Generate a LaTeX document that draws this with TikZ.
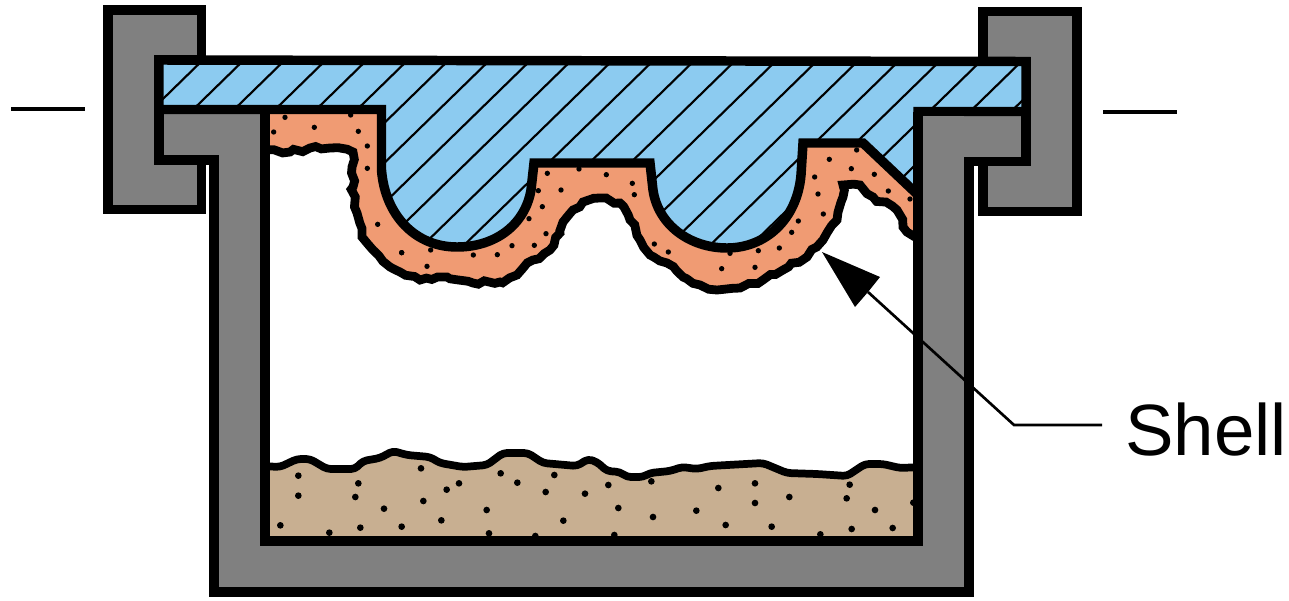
\documentclass[tikz,border=0pt]{standalone}
\usepackage{fontspec}
\setmainfont{Liberation Sans}
\usetikzlibrary{decorations.pathmorphing,arrows.meta}
\definecolor{wallgray}{HTML}{808080}
\definecolor{moldblue}{HTML}{8CCBF0}
\definecolor{shellorange}{HTML}{F09B73}
\definecolor{sandtan}{HTML}{C8AF91}
\tikzset{
  solidpart/.style={draw=black,line width=7.1pt,miter limit=10},
  wallpart/.style={solidpart,fill=wallgray},
  hatchline/.style={black,line width=1.6pt},
  roughedge/.style={draw=black,line width=6.6pt,line join=miter,miter limit=2,line cap=butt,
     decorate,decoration={random steps,segment length=5.5pt,amplitude=1.7pt}},
  softedge/.style={draw=black,line width=5.8pt,line join=round,line cap=round,rounded corners=3pt},
  leader/.style={black,line width=2pt},
  ticklineA/.style={black,line width=2.4pt},
  shelltext/.style={font=\fontsize{54.5}{54.5}\selectfont,inner sep=0pt,anchor=base west}
}
\newcommand{\moldoutline}{(159,60) -- (1026,61.5) -- (1026,111.5) -- (918,111.5) -- (918,195) -- (863,143) -- (803,143) -- (801,175)
   .. controls (797,220) and (765,248) .. (727,248) .. controls (690,248) and (658,225) .. (653,190) -- (650,163) -- (534,163) -- (531,190)
   .. controls (525,225) and (495,247) .. (457,247) .. controls (415,247) and (385,215) .. (381.5,170) -- (381.5,109.5) -- (159,109.5) -- cycle}
\newcommand{\moldprofile}{(381.5,109.5) -- (381.5,170) .. controls (385,215) and (415,247) .. (457,247)
   .. controls (495,247) and (525,225) .. (531,190) -- (534,163) -- (650,163) -- (653,190)
   .. controls (658,225) and (690,248) .. (727,248) .. controls (765,248) and (797,220) .. (801,175)
   -- (803,143) -- (863,143) -- (918,195)}
\newcommand{\shellrough}{(915,237) -- (903,227) -- (897,210) -- (873,197) -- (860,185) -- (843,185) -- (843,197)
   -- (837,220) -- (823,240) -- (807,257) -- (783,270) -- (763,280) -- (740,288) -- (717,290) -- (700,285)
   -- (683,277) -- (667,263) -- (650,255) -- (640,240) -- (630,220) -- (620,203) -- (600,198) -- (583,202)
   -- (573,210) -- (563,222) -- (560,233) -- (550,250) -- (533,260) -- (517,275) -- (500,282) -- (473,283)
   -- (447,277) -- (420,280) -- (400,272) -- (390,267) -- (373,250) -- (362,237) -- (357,213) -- (353,187)
   -- (353,152) -- (330,148) -- (310,148) -- (290,152) -- (262,150)}
\newcommand{\sandtop}{(262,466) -- (280,467) -- (297,459) -- (310,459) -- (327,469) -- (355,469) -- (363,461)
   -- (380,458) -- (393,451) -- (407,455) -- (430,457) -- (440,463) -- (463,467) -- (487,465) -- (503,453)
   -- (528,453) -- (543,463) -- (577,466) -- (588,459) -- (597,462) -- (607,471) -- (620,472) -- (627,477)
   -- (643,477) -- (650,473) -- (670,471) -- (682,467) -- (697,469) -- (710,466) -- (763,463) -- (787,473)
   -- (817,474) -- (847,476) -- (865,464) -- (883,464) -- (900,468) -- (921,467)}
\begin{document}
\begin{tikzpicture}[x=0.75pt,y=-0.75pt]
\useasboundingbox (0,0) rectangle (1289,600);
\pgfmathsetseed{4217}
% clamps
\path[wallpart] (108,10) -- (201.5,10) -- (201.5,60) -- (159,60) -- (159,160) -- (201.5,160) -- (201.5,209.5) -- (108,209.5) -- cycle;
\path[wallpart] (983,11.5) -- (1077,11.5) -- (1077,211.5) -- (983,211.5) -- (983,161.5) -- (1026,161.5) -- (1026,61.5) -- (983,61.5) -- cycle;
% shell
\fill[shellorange] \moldprofile -- (918,240) -- \shellrough -- (262,109.5) -- cycle;
\path[roughedge] \shellrough;
\foreach \X/\Y in {585/352,782/345,673/382,551/396,805/394,832/438,832/505,863/673,935/758}
  \fill ({90+\X/3},{\Y/3}) circle[radius=2pt];
\foreach \X/\Y in {442/220,537/207,619/224,697/250,703/284,483/270,415/272,427/320,387/356,438/401,403/436,336/437,292/464,220/465,92/450,5/458,81/499,763/432,805/456}
  \fill ({400+\X/3},{100+\Y/3}) circle[radius=2pt];
\foreach \X/\Y in {388/478,470/450,454/506,523/523,344/531,354/582,565/573,630/597,370/642,295/663,275/697,238/744,175/752,165/802,65/806,90/760}
  \fill ({700+\X/3},{\Y/3}) circle[radius=2pt];
% sand
\fill[sandtan] \sandtop -- (921,541) -- (262,541) -- cycle;
\path[softedge] \sandtop;
\foreach \X/\Y in {295/137,295/197,475/160,466/201,663/115,552/236,670/213,740/179,777/160,902/130,952/158,860/240,724/271,1063/135,1037/186,1155/191,1090/272,241/286,388/308,481/293,605/290,867/310,1006/318}
  \fill ({200+\X/3},{430+\Y/3}) circle[radius=2.5pt];
\foreach \X/\Y in {55/165,184/154,85/234,189/261,319/242,385/174,495/160,495/219,598/201,407/285,545/290,691/313,785/297,908/294,770/205,779/164,855/240,73/315,970/218}
  \fill ({590+\X/3},{430+\Y/3}) circle[radius=2.5pt];
% vessel
\path[wallpart] (159,109.5) -- (265,109.5) -- (265,541) -- (918,541) -- (918,111.5) -- (1026,111.5) -- (1026,161.5) -- (969,161.5) -- (969,592) -- (214,592) -- (214,160) -- (159,160) -- cycle;
% mold plate with hatching
\fill[moldblue] \moldoutline;
\begin{scope}
\clip \moldoutline;
\foreach \k in {0,...,21}
  \draw[hatchline] ({198+41*\k-195},{65+190}) -- ({198+41*\k+10},{65-10});
\end{scope}
\path[solidpart] \moldoutline;
% vessel wall over the end of the diagonal
\draw[draw=black,line width=7.1pt] (918,111.5) -- (918,541);
\fill[wallgray] (922.7,116.2) rectangle (964.3,250);
% axis ticks
\coordinate (tickLa) at (11,109);
\coordinate (tickLb) at (85,109);
\coordinate (tickRa) at (1103,112);
\coordinate (tickRb) at (1177,112);
\draw[ticklineA] (tickLa) -- (tickLb);
\draw[ticklineA] (tickRa) -- (tickRb);
% label and leader
\node[shelltext] (shell) at (1125,455) {Shell};
\coordinate (tip) at (822,252);
\coordinate (headA) at (880,277);
\coordinate (headB) at (855,307);
\coordinate (bend) at (1014,425);
\coordinate (labelEnd) at (1102,425);
\coordinate (headBase) at (868,292);
\draw[leader,line join=miter] (headBase) -- (bend) -- (labelEnd);
\fill[black] (tip) -- (headA) -- (headBase) -- (headB) -- cycle;
\end{tikzpicture}
\end{document}
